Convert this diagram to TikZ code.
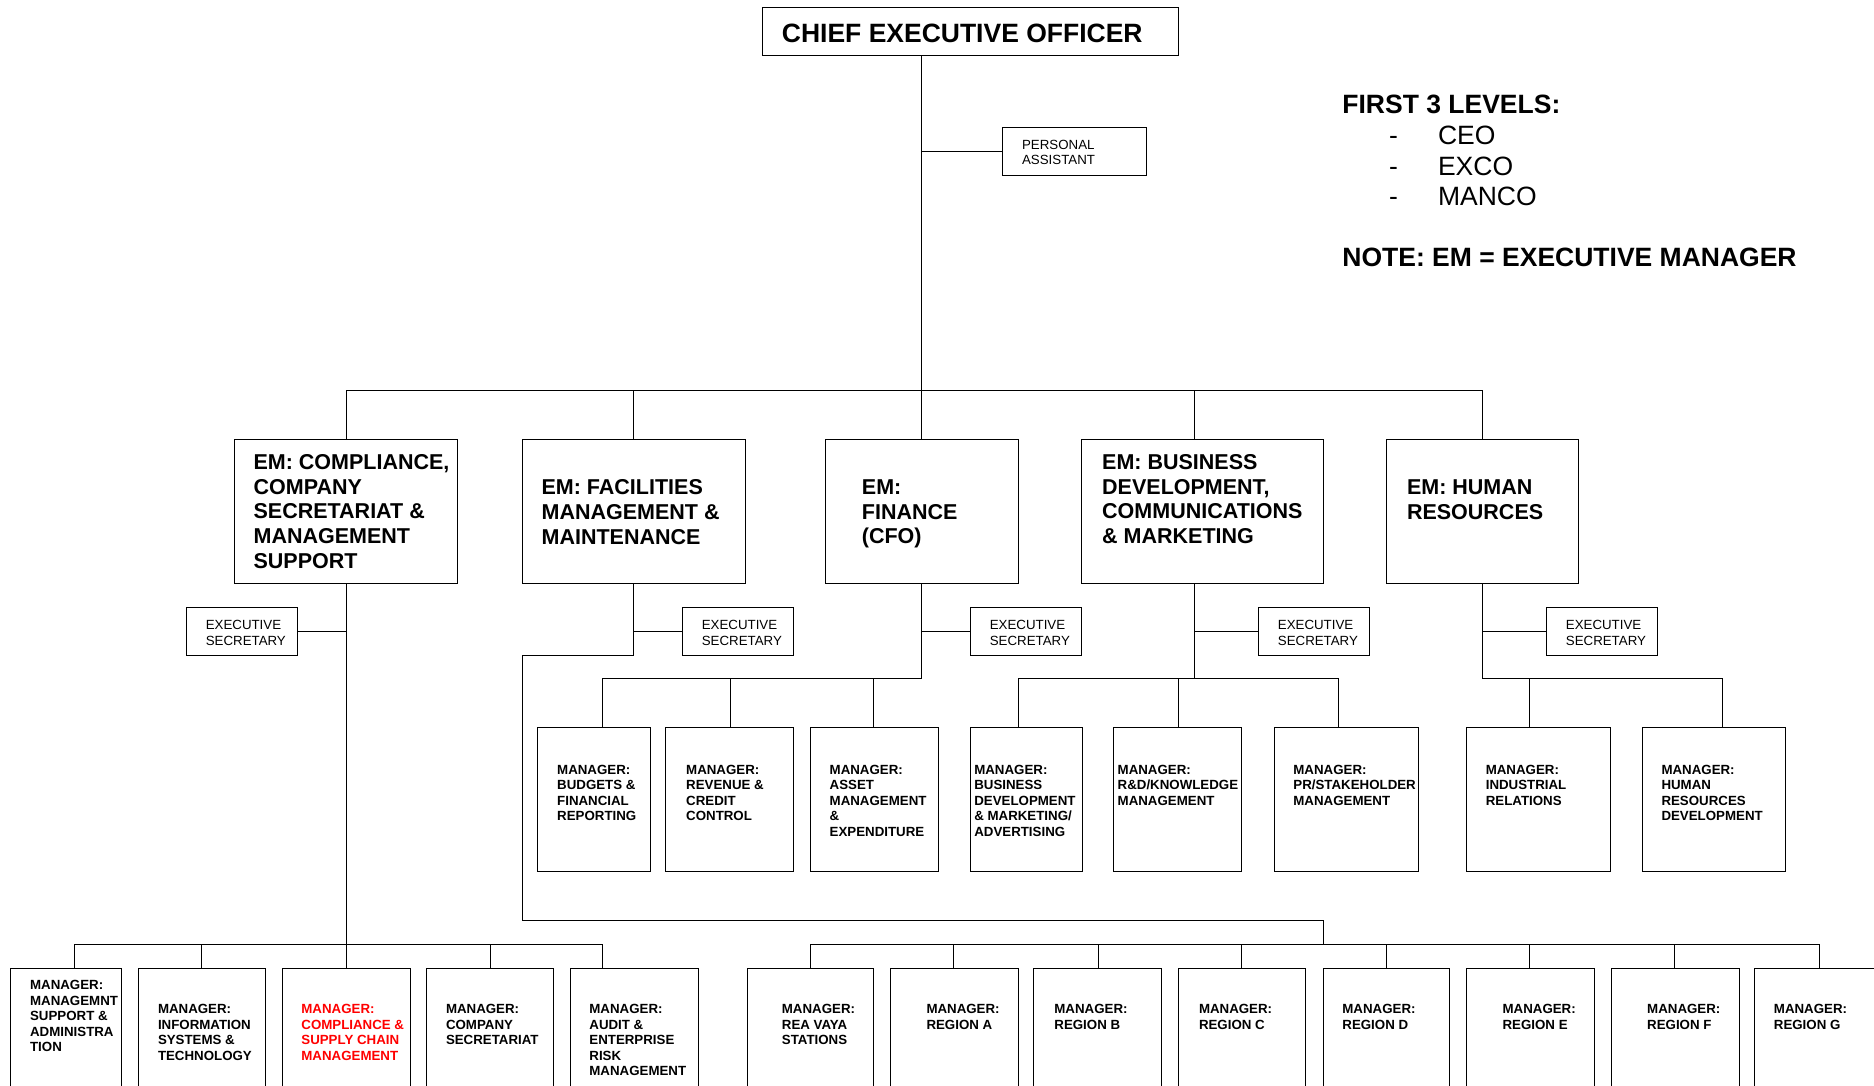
\documentclass[tikz,border=0pt]{standalone}
\usepackage{fontspec}
\setmainfont{Liberation Sans}
\newcommand\bx[5]{\node[box, minimum width={#4pt-#2pt}, minimum height={#5pt-#3pt}] (#1) at (#2,#3) {};}
\begin{document}
\begin{tikzpicture}[x=1pt,y=-1pt,
  box/.style={draw, line width=1pt, inner sep=0pt, outer sep=0pt, anchor=north west},
  conn/.style={line width=1pt},
  bt/.style={font=\bfseries\fontsize{13.3}{15.5}\selectfont, align=left, anchor=north west, inner sep=0pt, yshift=8.4pt, execute at begin node=\strut},
  rt/.style={font=\fontsize{13.3}{15.5}\selectfont, align=left, anchor=north west, inner sep=0pt, yshift=8.4pt, execute at begin node=\strut},
  emt/.style={font=\bfseries\fontsize{21.5}{24.8}\selectfont, align=left, anchor=north west, inner sep=0pt, yshift=13.8pt, execute at begin node=\strut},
  big/.style={font=\bfseries\fontsize{26.5}{30.7}\selectfont, anchor=base west, inner sep=0pt},
  bigr/.style={font=\fontsize{26.5}{30.7}\selectfont, anchor=base west, inner sep=0pt},
]
\useasboundingbox (0,0) rectangle (1874,1085);
\clip (0,0) rectangle (1874,1085);
\fill[white] (0,0) rectangle (1874,1085);

% ---------- boxes ----------
\bx{ceo}{762.5}{7.2}{1178.5}{55}
\bx{pa}{1002.8}{127.9}{1146.2}{175.7}

\bx{em1}{234.3}{439.8}{457.8}{583.3}
\bx{em2}{522.3}{439.8}{745.8}{583.3}
\bx{em3}{825.9}{439.8}{1018.3}{583.3}
\bx{em4}{1081.7}{439.8}{1323.1}{583.3}
\bx{em5}{1386.4}{439.8}{1578.8}{583.3}

\bx{es1}{186.5}{607.2}{297.6}{655}
\bx{es2}{682.5}{607.2}{793.6}{655}
\bx{es3}{970.5}{607.2}{1081.7}{655}
\bx{es4}{1258.5}{607.2}{1369.7}{655}
\bx{es5}{1546.6}{607.2}{1657.7}{655}

\bx{bfr}{537.8}{727.9}{650.2}{871.3}
\bx{rcc}{665.7}{727.9}{793.6}{871.3}
\bx{ame}{810.3}{727.9}{938.2}{871.3}
\bx{bdm}{970.5}{727.9}{1082.9}{871.3}
\bx{rdk}{1113.9}{727.9}{1241.8}{871.3}
\bx{prs}{1274.1}{727.9}{1418.7}{871.3}
\bx{ir}{1466.5}{727.9}{1610}{871.3}
\bx{hrd}{1642.2}{727.9}{1785.6}{871.3}

\bx{c1}{10.8}{968.1}{121.9}{1100}
\bx{c2}{138.6}{968.1}{265.3}{1100}
\bx{c3}{282}{968.1}{410}{1100}
\bx{c4}{426.7}{968.1}{553.4}{1100}
\bx{c5}{570.1}{968.1}{698}{1100}
\bx{rv}{747}{968.1}{873.7}{1100}
\bx{ra}{890.4}{968.1}{1018.3}{1100}
\bx{rb}{1033.8}{968.1}{1161.7}{1100}
\bx{rc}{1178.5}{968.1}{1305.1}{1100}
\bx{rd}{1323.1}{968.1}{1449.8}{1100}
\bx{re}{1466.5}{968.1}{1594.4}{1100}
\bx{rf}{1611.1}{968.1}{1739}{1100}
\bx{rg}{1754.6}{968.1}{1882}{1100}

% ---------- texts ----------
\node[big] (ceot) at (781.7,42) {CHIEF EXECUTIVE OFFICER};
\node[rt] (pat) at (1021.9,148.2) {PERSONAL\\ASSISTANT};

\node[big] (lg1) at (1342.2,113.5) {FIRST 3 LEVELS:};
\node[bigr] (lgd1) at (1389,144.5) {-};
\node[bigr] (lg2) at (1437.8,144.5) {CEO};
\node[bigr] (lgd2) at (1389,175.2) {-};
\node[bigr] (lg3) at (1437.8,175.2) {EXCO};
\node[bigr] (lgd3) at (1389,205.5) {-};
\node[bigr] (lg4) at (1437.8,205.5) {MANCO};
\node[big] (lg5) at (1342.2,266.5) {NOTE: EM = EXECUTIVE MANAGER};

\node[emt] (em1t) at (253.4,467.9) {EM: COMPLIANCE,\\COMPANY\\SECRETARIAT \&\\MANAGEMENT\\SUPPORT};
\node[emt] (em2t) at (541.4,493) {EM: FACILITIES\\MANAGEMENT \&\\MAINTENANCE};
\node[emt] (em3t) at (861.7,493) {EM:\\FINANCE\\(CFO)};
\node[emt] (em4t) at (1102,467.9) {EM: BUSINESS\\DEVELOPMENT,\\COMMUNICATIONS\\\& MARKETING};
\node[emt] (em5t) at (1406.8,493) {EM: HUMAN\\RESOURCES};

\node[rt] (es1t) at (205.6,628.7) {EXECUTIVE\\SECRETARY};
\node[rt] (es2t) at (701.6,628.7) {EXECUTIVE\\SECRETARY};
\node[rt] (es3t) at (989.6,628.7) {EXECUTIVE\\SECRETARY};
\node[rt] (es4t) at (1277.7,628.7) {EXECUTIVE\\SECRETARY};
\node[rt] (es5t) at (1565.7,628.7) {EXECUTIVE\\SECRETARY};

\node[bt] (bfrt) at (557,773.3) {MANAGER:\\BUDGETS \&\\FINANCIAL\\REPORTING};
\node[bt] (rcct) at (686,773.3) {MANAGER:\\REVENUE \&\\CREDIT\\CONTROL};
\node[bt] (amet) at (829.5,773.3) {MANAGER:\\ASSET\\MANAGEMENT\\\&\\EXPENDITURE};
\node[bt] (bdmt) at (974.1,773.3) {MANAGER:\\BUSINESS\\DEVELOPMENT\\\& MARKETING/\\ADVERTISING};
\node[bt] (rdkt) at (1117.5,773.3) {MANAGER:\\R\&D/KNOWLEDGE\\MANAGEMENT};
\node[bt] (prst) at (1293.2,773.3) {MANAGER:\\PR/STAKEHOLDER\\MANAGEMENT};
\node[bt] (irt) at (1485.6,773.3) {MANAGER:\\INDUSTRIAL\\RELATIONS};
\node[bt] (hrdt) at (1661.3,773.3) {MANAGER:\\HUMAN\\RESOURCES\\DEVELOPMENT};

\node[bt] (c1t) at (29.9,988.4) {MANAGER:\\MANAGEMNT\\SUPPORT \&\\ADMINISTRA\\TION};
\node[bt] (c2t) at (157.8,1012.4) {MANAGER:\\INFORMATION\\SYSTEMS \&\\TECHNOLOGY};
\node[bt, text=red] (c3t) at (301.2,1012.4) {MANAGER:\\COMPLIANCE \&\\SUPPLY CHAIN\\MANAGEMENT};
\node[bt] (c4t) at (445.8,1012.4) {MANAGER:\\COMPANY\\SECRETARIAT};
\node[bt] (c5t) at (589.2,1012.4) {MANAGER:\\AUDIT \&\\ENTERPRISE\\RISK\\MANAGEMENT};
\node[bt] (rvt) at (781.7,1012.4) {MANAGER:\\REA VAYA\\STATIONS};
\node[bt] (rat) at (926.3,1012.4) {MANAGER:\\REGION A};
\node[bt] (rbt) at (1054.2,1012.4) {MANAGER:\\REGION B};
\node[bt] (rct) at (1198.8,1012.4) {MANAGER:\\REGION C};
\node[bt] (rdt) at (1342.2,1012.4) {MANAGER:\\REGION D};
\node[bt] (ret) at (1502.4,1012.4) {MANAGER:\\REGION E};
\node[bt] (rft) at (1647,1012.4) {MANAGER:\\REGION F};
\node[bt] (rgt) at (1773.7,1012.4) {MANAGER:\\REGION G};

% ---------- connector coordinates ----------
\coordinate (cv) at (921.5,390.8);
\coordinate (xa) at (346.6,390.8);
\coordinate (xb) at (633.5,390.8);
\coordinate (xd) at (1194,390.8);
\coordinate (xe) at (1482,390.8);
\coordinate (fb) at (0,678.9);
\coordinate (cb) at (0,944.2);

% top level
\draw[conn] (ceo.south -| cv) -- (cv);
\draw[conn] (pa.west) -- (pa.west -| cv);
\draw[conn] (em1.north -| xa) -- (xa) -- (xe) -- (em5.north -| xe);
\draw[conn] (xb) -- (em2.north -| xb);
\draw[conn] (cv) -- (em3.north -| cv);
\draw[conn] (xd) -- (em4.north -| xd);

% executive secretaries
\draw[conn] (es1.east) -- (es1.east -| xa);
\draw[conn] (es2.west) -- (es2.west -| xb);
\draw[conn] (es3.west) -- (es3.west -| cv);
\draw[conn] (es4.west) -- (es4.west -| xd);
\draw[conn] (es5.west) -- (es5.west -| xe);

% compliance branch
\coordinate (dc1) at (74.1,944.2);
\coordinate (dc5) at (602.4,944.2);
\draw[conn] (em1.south -| xa) -- (c3.north -| xa);
\draw[conn] (c1.north -| dc1) -- (dc1) -- (dc5) -- (c5.north -| dc5);
\draw[conn] (c2.north) -- (c2.north |- cb);
\draw[conn] (c4.north) -- (c4.north |- cb);

% finance branch
\coordinate (dbfr) at (602.4,678.9);
\coordinate (drcc) at (730.3,678.9);
\coordinate (dame) at (873.7,678.9);
\draw[conn] (em3.south -| cv) -- (cv |- fb) -- (dbfr) -- (bfr.north -| dbfr);
\draw[conn] (drcc) -- (rcc.north -| drcc);
\draw[conn] (dame) -- (ame.north -| dame);

% business development branch
\coordinate (dbdm) at (1018.3,678.9);
\coordinate (drdk) at (1178.5,678.9);
\coordinate (dprs) at (1338.6,678.9);
\draw[conn] (em4.south -| xd) -- (xd |- fb);
\draw[conn] (bdm.north -| dbdm) -- (dbdm) -- (dprs) -- (prs.north -| dprs);
\draw[conn] (drdk) -- (rdk.north -| drdk);

% human resources branch
\coordinate (dir) at (1529.9,678.9);
\coordinate (dhrd) at (1722.3,678.9);
\draw[conn] (em5.south -| xe) -- (xe |- fb) -- (dhrd) -- (hrd.north -| dhrd);
\draw[conn] (dir) -- (ir.north -| dir);

% facilities branch to regions
\coordinate (f1) at (633.5,655);
\coordinate (f2) at (522.3,655);
\coordinate (f3) at (522.3,920.3);
\coordinate (f4) at (1323.1,920.3);
\coordinate (f5) at (1323.1,944.2);
\draw[conn] (em2.south -| xb) -- (f1) -- (f2) -- (f3) -- (f4) -- (f5);
\coordinate (drv) at (810.3,944.2);
\coordinate (dra) at (953.8,944.2);
\coordinate (drb) at (1098.4,944.2);
\coordinate (drc) at (1241.8,944.2);
\coordinate (drd) at (1386.4,944.2);
\coordinate (dre) at (1529.9,944.2);
\coordinate (drf) at (1674.5,944.2);
\coordinate (drg) at (1819,944.2);
\draw[conn] (rv.north -| drv) -- (drv) -- (drg) -- (rg.north -| drg);
\draw[conn] (dra) -- (ra.north -| dra);
\draw[conn] (drb) -- (rb.north -| drb);
\draw[conn] (drc) -- (rc.north -| drc);
\draw[conn] (drd) -- (rd.north -| drd);
\draw[conn] (dre) -- (re.north -| dre);
\draw[conn] (drf) -- (rf.north -| drf);
\end{tikzpicture}
\end{document}
